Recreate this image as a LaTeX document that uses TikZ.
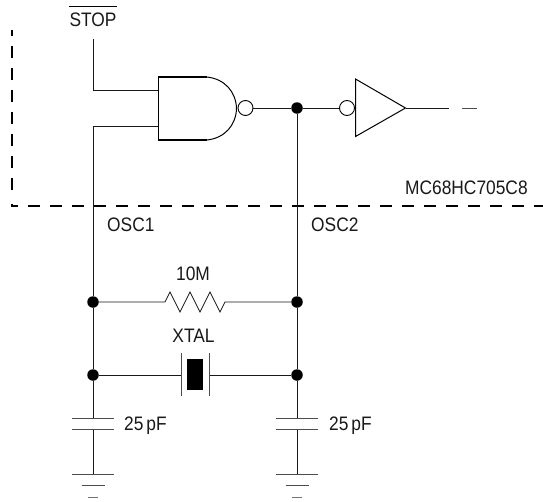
\documentclass[tikz,border=0pt]{standalone}
\usepackage{fontspec}
\setmainfont{Liberation Sans}
\tikzset{
  wire/.style={line width=0.9pt,black!90},
  dot/.style={circle,fill=black,inner sep=0pt,minimum size=11.5pt},
  bubble/.style={circle,draw,fill=white,line width=0.9pt,inner sep=0pt,minimum size=15pt},
  lbl/.style={inner sep=0pt,font=\fontsize{19.5}{21}\selectfont,xscale=0.89,text=black!90},
  boundary/.style={line width=2pt,dash pattern=on 11.5pt off 10.5pt},
  plate/.style={line width=1pt,black!70}
}
\begin{document}
\begin{tikzpicture}[x=1pt,y=-1pt]
\useasboundingbox (0,0) rectangle (543,501);
\fill[white] (0,0) rectangle (543,501);
% coordinates
\coordinate (stopend) at (93,39);
\coordinate (stopbend) at (93,90);
\coordinate (in1) at (158,90);
\coordinate (in2) at (158,126);
\coordinate (osc1bend) at (93,126);
\coordinate (gtl) at (158.5,77);
\coordinate (gbl) at (158.5,140);
\coordinate (tl) at (355.5,79);
\coordinate (bl) at (355.5,136.5);
\coordinate (tip) at (405.5,108);
\coordinate (outend) at (449,108);
\coordinate (d1) at (462,108);
\coordinate (d2) at (477,108);
\coordinate (boxtop) at (12,30);
\coordinate (boxlow) at (12,190);
\coordinate (boxstub) at (12,204);
\coordinate (boxcorner) at (12,206);
\coordinate (boxend) at (543,206);
% junctions
\node[dot] (jtop) at (297,108) {};
\node[dot] (jrl) at (93,302) {};
\node[dot] (jrr) at (297,302) {};
\node[dot] (jxl) at (93,375) {};
\node[dot] (jxr) at (297,375) {};
% boundary
\draw[boundary,dash phase=6pt] (boxtop) -- (boxlow);
\draw[boundary,dash phase=4pt,line join=miter] (boxstub) -- (boxcorner) -- (boxend);
% NAND
\draw[wire] (stopend) -- (stopbend) -- (in1);
\draw[wire] (in2) -- (osc1bend) -- (jrl);
\draw[line width=1.5pt,line join=miter] (207,140) -- (gbl) -- (gtl) -- (207,77);
\draw[line width=1pt] (207,77) .. controls (225,79) and (236,92) .. (236.5,108.5) .. controls (236,125) and (225,138) .. (207,140);
\node[bubble] (b1) at (245.5,108) {};
\draw[wire] (b1) -- (jtop);
\node[bubble] (b2) at (347,108) {};
\draw[wire] (jtop) -- (b2);
\draw[line width=1pt,line join=miter] (tl) -- (tip) -- (bl) -- cycle;
\draw[wire] (tip) -- (outend);
\draw[wire,black!70] (d1) -- (d2);
% verticals
\draw[wire] (jtop) -- (jrr);
\draw[wire] (jrl) -- (jxl);
\draw[wire] (jrr) -- (jxr);
% resistor
\coordinate (rl) at (165,302);
\coordinate (rr) at (225,302);
\draw[wire,line width=0.8pt] (jrl) -- (rl) -- (170,292) -- (180,312) -- (190,292) -- (200,312) -- (210,292) -- (220,312) -- (rr) -- (jrr);
% crystal
\coordinate (xl) at (181,375);
\coordinate (xr) at (209,375);
\draw[wire] (jxl) -- (xl);
\draw[wire] (xr) -- (jxr);
\draw[plate] (181,353) -- (181,396);
\draw[plate] (209,353) -- (209,396);
\node[fill=black,inner sep=0pt,minimum width=16pt,minimum height=31pt] (xtal) at (195,374.5) {};
% capacitors and grounds
\foreach \n/\x/\up in {l/93/jxl,r/297/jxr}{
  \coordinate (ct\n) at (\x,418);
  \coordinate (cb\n) at (\x,429);
  \coordinate (g\n) at (\x,474);
  \draw[wire] (\up) -- (ct\n);
  \draw[wire] (cb\n) -- (g\n);
  \draw[plate] (\x-21,418) -- (\x+21,418);
  \draw[plate] (\x-21,429) -- (\x+21,429);
  \draw[plate] (\x-21,474) -- (\x+21,474);
  \draw[plate] (\x-11.5,485) -- (\x+11.5,485);
  \draw[plate,black!55] (\x-5,497) -- (\x+5,497);
}
% labels
\node[lbl] (stop) at (93,19.5) {STOP};
\draw[line width=1pt] (69,6.5) -- (117,6.5);
\node[lbl,anchor=west] (osc1) at (107,225) {OSC1};
\node[lbl,anchor=west] (osc2) at (311,224.5) {OSC2};
\node[lbl,anchor=west] (chip) at (405,188) {MC68HC705C8};
\node[lbl] (r) at (193,274) {10M};
\node[lbl] (x) at (193.5,335.5) {XTAL};
\node[lbl,anchor=west] (c1) at (124,426) {25\,pF};
\node[lbl,anchor=west] (c2) at (329,426) {25\,pF};
\end{tikzpicture}
\end{document}
